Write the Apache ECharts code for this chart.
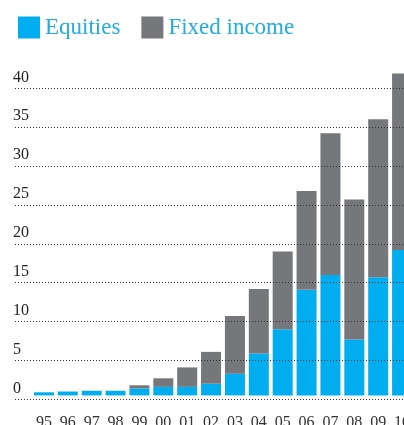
<!DOCTYPE html>
<html>
<head>
<meta charset="utf-8">
<script src="https://cdn.jsdelivr.net/npm/echarts@6/dist/echarts.min.js"></script>
<style>
  html, body { margin: 0; padding: 0; background: #fff; }
  #chart { width: 404px; height: 425px; }
</style>
</head>
<body>
<div id="chart"></div>
<script>
// years, 1995 - 2010
const years = ['95', '96', '97', '98', '99', '00', '01', '02', '03', '04', '05', '06', '07', '08', '09', '10']
// values
const equities = [0.4, 0.5, 0.6, 0.6, 0.9, 1.1, 1.1, 1.5, 2.8, 5.4, 8.5, 13.6, 15.5, 7.2, 15.2, 18.7]
const fixedIncome = [0, 0, 0, 0, 0.4, 1.1, 2.5, 4.1, 7.4, 8.3, 10.0, 12.7, 18.2, 18.0, 20.3, 22.7]

const serif = '"Liberation Serif", "DejaVu Serif", serif'
const myChart = echarts.init(document.getElementById('chart'))

myChart.setOption({
    animation: false,
    legend: {
        left: 13,
        top: 11,
        itemWidth: 22,
        itemHeight: 22,
        itemGap: 21,
        icon: 'rect',
        textStyle: { color: '#20ace6', fontSize: 23, fontFamily: serif },
        data: ['Equities', 'Fixed income']
    },
    grid: [
        // grid 0: gridlines + value labels
        { left: 15, right: 0, top: 88.3, bottom: 25.7, outerBoundsMode: 'none', containLabel: false },
        // grid 1: the bars
        { left: 32, width: 382, top: 45.5, bottom: 25.7, outerBoundsMode: 'none', containLabel: false }
    ],
    xAxis: [
        { type: 'value', gridIndex: 0, show: false },
        {
            type: 'category',
            gridIndex: 1,
            data: years,
            offset: 3,
            axisLine: { show: false },
            axisTick: { alignWithLabel: true, length: 8, lineStyle: { color: '#333', width: 1 } },
            axisLabel: { margin: 12, color: '#333', fontSize: 16, fontFamily: serif }
        }
    ],
    yAxis: [
        {
            type: 'value',
            gridIndex: 0,
            min: 0,
            max: 40,
            interval: 5,
            z: 5,
            axisLine: { show: false },
            axisTick: { show: false },
            axisLabel: {
                inside: true,
                margin: -2,
                verticalAlign: 'bottom',
                lineHeight: 16,
                padding: [0, 0, 3, 0],
                color: '#222',
                fontSize: 16,
                fontFamily: serif
            },
            // dotted lines sit on top of the bars
            splitLine: { lineStyle: { type: [1, 2], color: '#333', width: 1 } }
        },
        {
            type: 'value',
            gridIndex: 1,
            min: -0.5,
            max: 45,
            show: false,
            splitLine: { show: false }
        }
    ],
    series: [
        {
            name: 'Equities',
            type: 'bar',
            stack: 'total',
            xAxisIndex: 1,
            yAxisIndex: 1,
            barWidth: 20,
            itemStyle: { color: '#00adef' },
            data: equities
        },
        {
            name: 'Fixed income',
            type: 'bar',
            stack: 'total',
            xAxisIndex: 1,
            yAxisIndex: 1,
            barWidth: 20,
            itemStyle: { color: '#76777b' },
            data: fixedIncome
        }
    ]
})
</script>
</body>
</html>
